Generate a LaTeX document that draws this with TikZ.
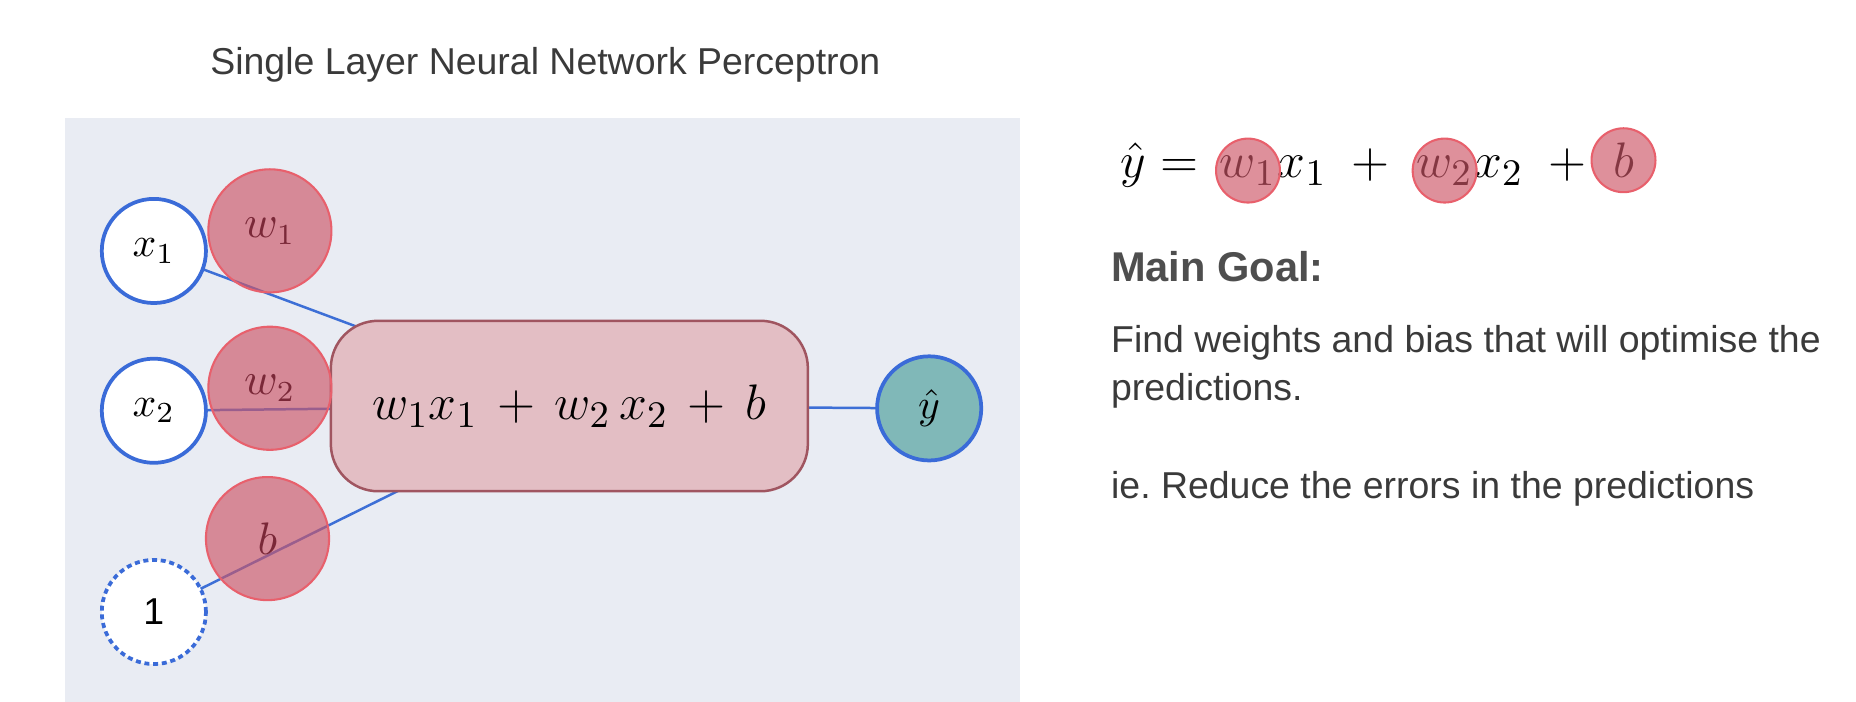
\documentclass[tikz,border=0pt]{standalone}
\usepackage[no-math]{fontspec}
\setmainfont{Liberation Sans}
\usepackage{xcolor}
\usetikzlibrary{backgrounds}
\definecolor{panelgray}{HTML}{E9ECF3}
\definecolor{nodeblue}{HTML}{3A6BD8}
\definecolor{linkblue}{HTML}{3D6FD6}
\definecolor{wfill}{HTML}{CC5566}
\definecolor{wedge}{HTML}{E8606C}
\definecolor{wtext}{HTML}{7A2838}
\definecolor{sumfill}{HTML}{E3BEC4}
\definecolor{sumedge}{HTML}{A05560}
\definecolor{outfill}{HTML}{80B8B8}
\definecolor{slidetext}{HTML}{3A3A3A}
\pgfdeclarelayer{panel}
\pgfdeclarelayer{links}
\pgfsetlayers{panel,links,main}

\begin{document}
\begin{tikzpicture}[x=0.1mm, y=-0.1mm,
        inp/.style={circle, draw=nodeblue, line width=0.9pt, fill=white, minimum size=8.8mm, inner sep=0pt, font=\fontsize{10}{12}\selectfont},
        wgt/.style={circle, draw=wedge, line width=0.5pt, fill=wfill, fill opacity=0.65, text opacity=1, text=wtext, minimum size=10.4mm, inner sep=0pt, font=\fontsize{10.5}{12}\selectfont},
        eqdot/.style={wgt, minimum size=5.4mm},
        link/.style={linkblue, line width=0.6pt},
        slide/.style={anchor=base west, inner sep=0pt, text=slidetext, font=\fontsize{9}{11}\selectfont},
        eqpart/.style={anchor=base west, inner sep=0pt, font=\fontsize{13.2}{15}\selectfont}]
                \useasboundingbox (0,0) rectangle (1568,593);
                \begin{pgfonlayer}{panel}
                    \fill[panelgray] (55,100) rectangle (862,593);
                \end{pgfonlayer}
                \node[slide] (title) at (177,63) {Single Layer Neural Network Perceptron};
                \node[inp] (x1) at (130,212) {$x_1$};
                \node[inp] (x2) at (130,347) {$x_2$};
                \node[inp, dash pattern=on 1.2pt off 0.9pt, font=\fontsize{9}{11}\selectfont] (one) at (130,517) {1};
                \node[draw=sumedge, line width=0.6pt, fill=sumfill, rounded corners=4mm, minimum width=40.3mm, minimum height=14.4mm, font=\fontsize{12.5}{15}\selectfont] (sum) at (481,343) {$w_1x_1 \,+\, w_2\,x_2 \,+\, b$};
                \node[inp, fill=outfill] (yhat) at (785,345) {$\hat{y}$};
                \node[wgt] (w1) at (228,195) {$w_1$};
                \node[wgt] (w2) at (228,328) {$w_2$};
                \node[wgt] (b) at (226,455) {$b$};
                \begin{pgfonlayer}{links}
                    \draw[link] (x1.center) -- (sum.center);
                    \draw[link] (x2.center) -- (sum.center);
                    \draw[link] (one.center) -- (sum.center);
                    \draw[link] (sum.center) -- (yhat.center);
                \end{pgfonlayer}
                \node[eqpart] (ehat) at (946,150) {$\hat{y} = {}$};
                \node[eqpart] (ew1) at ([xshift=1.5pt]ehat.base east) {$w_1$};
                \node[eqpart] (ex1) at (ew1.base east) {$x_1 \;+\; {}$};
                \node[eqpart] (ew2) at (ex1.base east) {$w_2$};
                \node[eqpart] (ex2) at (ew2.base east) {$x_2 \;+\; {}$};
                \node[eqpart] (eb) at (ex2.base east) {$b$};
                \node[eqdot] (cw1) at (ew1.center) {};
                \node[eqdot] (cw2) at (ew2.center) {};
                \node[eqdot] (cb) at (eb.center) {};
                \node[slide, font=\fontsize{10}{12}\selectfont\bfseries, text=slidetext!90!white] (goal) at (938,238) {Main Goal:};
                \node[slide] (find) at (938,298) {Find weights and bias that will optimise the};
                \node[slide] (pred) at (938,338) {predictions.};
                \node[slide] (ie) at (938,421) {ie.\ Reduce the errors in the predictions};
            \end{tikzpicture}
\end{document}
